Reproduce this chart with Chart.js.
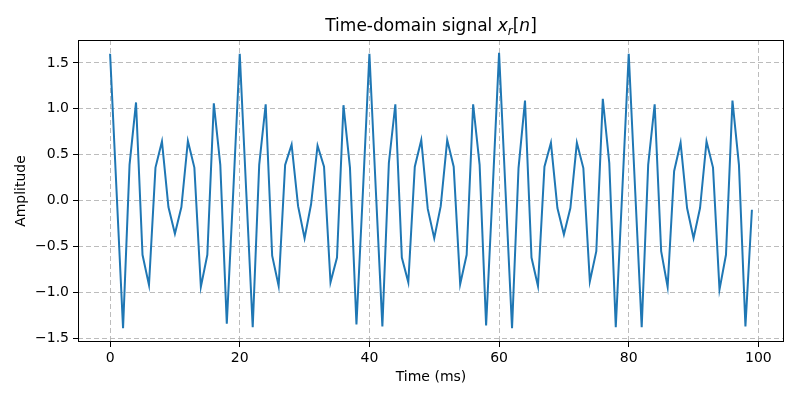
<!DOCTYPE html>
<html>
<head>
<meta charset="utf-8">
<script src="https://cdn.jsdelivr.net/npm/chart.js@4.4.1/dist/chart.umd.min.js"></script>
<style>
  html, body { margin: 0; padding: 0; background: #fff; }
  #wrap { width: 800px; height: 400px; }
</style>
</head>
<body>
<div id="wrap"><canvas id="signalChart" width="800" height="400"></canvas></div>
<script>
// sample index n (1 sample = 1 ms)
const timeMs = [
  0, 1, 2, 3, 4, 5, 6, 7, 8, 9, 10, 11, 12, 13, 14, 15, 16, 17, 18, 19,
  20, 21, 22, 23, 24, 25, 26, 27, 28, 29, 30, 31, 32, 33, 34, 35, 36, 37, 38, 39,
  40, 41, 42, 43, 44, 45, 46, 47, 48, 49, 50, 51, 52, 53, 54, 55, 56, 57, 58, 59,
  60, 61, 62, 63, 64, 65, 66, 67, 68, 69, 70, 71, 72, 73, 74, 75, 76, 77, 78, 79,
  80, 81, 82, 83, 84, 85, 86, 87, 88, 89, 90, 91, 92, 93, 94, 95, 96, 97, 98, 99
];

// amplitude
const amplitude = [
  1.60, 0.10, -1.39, 0.39, 1.07, -0.59, -0.92, 0.36, 0.645, -0.07,
  -0.36, -0.07, 0.65, 0.36, -0.94, -0.59, 1.06, 0.39, -1.34, 0.10,
  1.60, 0.10, -1.38, 0.39, 1.05, -0.60, -0.93, 0.39, 0.61, -0.06,
  -0.41, -0.04, 0.60, 0.37, -0.89, -0.62, 1.04, 0.36, -1.35, 0.10,
  1.60, 0.10, -1.37, 0.41, 1.05, -0.62, -0.89, 0.37, 0.66, -0.09,
  -0.41, -0.06, 0.66, 0.37, -0.91, -0.59, 1.05, 0.39, -1.36, 0.10,
  1.61, 0.10, -1.39, 0.355, 1.09, -0.62, -0.93, 0.37, 0.63, -0.08,
  -0.37, -0.08, 0.63, 0.355, -0.88, -0.55, 1.11, 0.41, -1.38, 0.10,
  1.60, 0.10, -1.38, 0.39, 1.05, -0.55, -0.94, 0.32, 0.63, -0.08,
  -0.41, -0.08, 0.645, 0.36, -0.97, -0.59, 1.09, 0.39, -1.37, -0.10
];

const xTicks = [0, 20, 40, 60, 80, 100];
const yTicks = [-1.5, -1.0, -0.5, 0.0, 0.5, 1.0, 1.5];

const FONT = "'DejaVu Sans', sans-serif";

// matplotlib-like title with math parts, plus full axes frame
const frameAndTitle = {
    id: "frameAndTitle",
    afterDraw(chart) {
        const { ctx, chartArea } = chart;
        ctx.save();
        ctx.strokeStyle = "#000";
        ctx.lineWidth = 1;
        ctx.strokeRect(chartArea.left + 0.5, chartArea.top + 0.5,
            chartArea.right - chartArea.left - 1, chartArea.bottom - chartArea.top - 1);

        const parts = [
            { t: "Time-domain signal ", f: "17px " + FONT, dy: 0 },
            { t: "x", f: "italic 17px " + FONT, dy: 0 },
            { t: "r", f: "italic 12px " + FONT, dy: 4 },
            { t: "[", f: "17px " + FONT, dy: 0 },
            { t: "n", f: "italic 17px " + FONT, dy: 0 },
            { t: "]", f: "17px " + FONT, dy: 0 }
        ];
        let total = 0;
        parts.forEach(p => { ctx.font = p.f; p.w = ctx.measureText(p.t).width; total += p.w; });
        let x = (chartArea.left + chartArea.right) / 2 - total / 2;
        const baseY = 31;
        ctx.fillStyle = "#000";
        ctx.textBaseline = "alphabetic";
        ctx.textAlign = "left";
        parts.forEach(p => {
            ctx.font = p.f;
            ctx.fillText(p.t, x, baseY + p.dy);
            x += p.w;
        });
        ctx.restore();
    }
};

const ctx = document.getElementById("signalChart").getContext("2d");

new Chart(ctx, {
    type: "line",
    data: {
        labels: timeMs,
        datasets: [{
            label: "x_r[n]",
            data: timeMs.map((t, i) => ({ x: t, y: amplitude[i] })),
            borderColor: "#1f77b4",
            borderWidth: 2,
            pointRadius: 0,
            tension: 0,
            fill: false
        }]
    },
    options: {
        responsive: false,
        animation: false,
        layout: { padding: { top: 40, right: 16, left: 0, bottom: 0 } },
        plugins: {
            legend: { display: false },
            title: { display: false },
            tooltip: { enabled: false }
        },
        scales: {
            x: {
                type: "linear",
                min: -4.95,
                max: 103.95,
                afterBuildTicks: (scale) => { scale.ticks = xTicks.map(v => ({ value: v })); },
                afterFit: (scale) => { scale.height = 58; },
                ticks: {
                    color: "#000",
                    font: { family: FONT, size: 14 },
                    padding: 3,
                    maxRotation: 0,
                    callback: (v) => String(v)
                },
                grid: {
                    color: "rgba(176,176,176,0.85)",
                    lineWidth: 1,
                    drawTicks: true,
                    tickLength: 5,
                    tickColor: "#000",
                    tickWidth: 1,
                    tickBorderDash: []
                },
                border: { display: false, dash: [5, 3] },
                title: {
                    display: true,
                    text: "Time (ms)",
                    color: "#000",
                    font: { family: FONT, size: 14 },
                    padding: { top: 0, bottom: 14 }
                }
            },
            y: {
                type: "linear",
                min: -1.54,
                max: 1.75,
                afterBuildTicks: (scale) => { scale.ticks = yTicks.map(v => ({ value: v })); },
                afterFit: (scale) => { scale.width = 78; },
                ticks: {
                    color: "#000",
                    font: { family: FONT, size: 14 },
                    padding: 4,
                    callback: (v) => v.toFixed(1).replace("-", "\u2212")
                },
                grid: {
                    color: "rgba(176,176,176,0.85)",
                    lineWidth: 1,
                    drawTicks: true,
                    tickLength: 5,
                    tickColor: "#000",
                    tickWidth: 1,
                    tickBorderDash: []
                },
                border: { display: false, dash: [5, 3] },
                title: {
                    display: true,
                    text: "Amplitude",
                    color: "#000",
                    font: { family: FONT, size: 14 },
                    padding: { top: 13, bottom: 0 }
                }
            }
        }
    },
    plugins: [frameAndTitle]
});
</script>
</body>
</html>
